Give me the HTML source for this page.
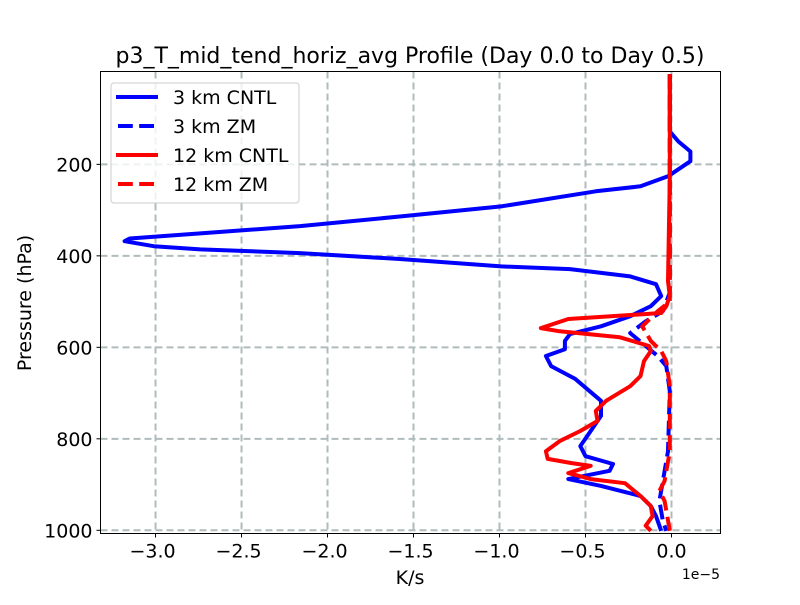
<!DOCTYPE html>
<html><head><meta charset="utf-8"><style>
body{margin:0;background:#fff;}
svg text{font-family:"DejaVu Sans","Liberation Sans",sans-serif;}
</style></head><body>
<svg id="chart" width="800" height="600" viewBox="0 0 800 600" xmlns="http://www.w3.org/2000/svg">
<rect width="800" height="600" fill="#fff"/>
<g id="grid"></g>
<g id="series"></g>
<rect x="100.5" y="71.5" width="620" height="462" fill="none" stroke="#000" stroke-width="1"/>
<g id="ticks"></g>
<text x="410" y="63" font-size="22" text-anchor="middle">p3_T_mid_tend_horiz_avg Profile (Day 0.0 to Day 0.5)</text>
<text x="410" y="584" font-size="19" text-anchor="middle">K/s</text>
<text x="720" y="579" font-size="14" text-anchor="end">1e−5</text>
<text transform="translate(31,303) rotate(-90)" font-size="19" text-anchor="middle">Pressure (hPa)</text>
<g>
<rect x="111" y="83" width="188" height="120" rx="3" fill="#fff" fill-opacity="0.8" stroke="#ccc"/>
<line x1="116" y1="97" x2="158" y2="97" stroke="#0000ff" stroke-width="4"/>
<text x="173" y="104" font-size="19">3 km CNTL</text>
<line x1="118" y1="126" x2="158" y2="126" stroke="#0000ff" stroke-width="4" stroke-dasharray="14.8,6.4"/>
<text x="173" y="133" font-size="19">3 km ZM</text>
<line x1="116" y1="155" x2="158" y2="155" stroke="#ff0000" stroke-width="4"/>
<text x="173" y="162" font-size="19">12 km CNTL</text>
<line x1="118" y1="184" x2="158" y2="184" stroke="#ff0000" stroke-width="4" stroke-dasharray="14.8,6.4"/>
<text x="173" y="191" font-size="19">12 km ZM</text>
</g>
</svg>
<script>
const xTicks=[-3.0,-2.5,-2.0,-1.5,-1.0,-0.5,0.0];
const xTickLabels=["−3.0","−2.5","−2.0","−1.5","−1.0","−0.5","0.0"];
const yTicks=[200,400,600,800,1000];
const yTickLabels=["200","400","600","800","1000"];
const cntl3P=[3,128,150,172,193,226,248,259,292,314,335,351,362,368,379,386,394,407,423,429,445,462,488,510,532,554,571,586,604,619,641,669,717,750,783,816,838,855,870,888,903,925,947,969,1001];
const cntl3V=[-0.01,-0.01,0.04,0.11,0.11,-0.02,-0.18,-0.44,-0.99,-1.58,-2.16,-2.74,-3.15,-3.18,-3.01,-2.74,-2.16,-1.58,-0.99,-0.59,-0.24,-0.09,-0.06,-0.12,-0.24,-0.41,-0.59,-0.62,-0.62,-0.73,-0.70,-0.56,-0.41,-0.41,-0.47,-0.53,-0.50,-0.34,-0.36,-0.60,-0.41,-0.18,-0.12,-0.09,-0.06];
const zm3P=[3,480,521,543,569,597,619,641,696,827,892,936,980,1001];
const zm3V=[-0.01,-0.01,-0.05,-0.15,-0.24,-0.15,-0.08,-0.03,-0.01,-0.02,-0.05,-0.07,-0.05,-0.03];
const cntl12P=[3,230,455,488,510,525,538,558,565,578,597,608,630,663,685,717,739,761,783,805,827,844,853,859,875,888,897,925,947,969,990,1001];
const cntl12V=[-0.01,-0.01,-0.02,-0.01,-0.03,-0.06,-0.6,-0.76,-0.65,-0.30,-0.13,-0.12,-0.16,-0.18,-0.24,-0.38,-0.44,-0.43,-0.53,-0.65,-0.73,-0.72,-0.58,-0.47,-0.60,-0.47,-0.27,-0.18,-0.12,-0.11,-0.15,-0.12];
const zm12P=[3,500,521,554,586,608,630,685,827,892,914,936,1001];
const zm12V=[-0.01,-0.01,-0.08,-0.17,-0.12,-0.06,-0.03,-0.01,-0.01,-0.04,-0.07,-0.04,-0.01];

const NS="http://www.w3.org/2000/svg";
const L=100.5,R=720.5,T=71.5,B=533.5;
const xMin=-3.32,xMax=0.285,pTop=-3,pBot=1007;
const xs=v=>L+(v-xMin)/(xMax-xMin)*(R-L);
const ys=p=>T+(p-pTop)/(pBot-pTop)*(B-T);
function mk(tag,attrs,parent){const e=document.createElementNS(NS,tag);for(const k in attrs)e.setAttribute(k,attrs[k]);parent.appendChild(e);return e;}
const grid=document.getElementById('grid'),ticks=document.getElementById('ticks'),series=document.getElementById('series');
xTicks.forEach((v,i)=>{
  const x=xs(v);
  const g=mk('line',{x1:x,y1:T,x2:x,y2:B,stroke:'#b0bcbc','stroke-width':2,'stroke-dasharray':'7,4'},grid);
  
  
  const t=mk('line',{x1:x,y1:B,x2:x,y2:B+4,stroke:'#000'},ticks);
  
  
  const tx=mk('text',{x:x-(v<0?3:0),y:B+24,'font-size':19,'text-anchor':'middle'},ticks);
  tx.textContent=xTickLabels[i];
  
  
});
yTicks.forEach((p,i)=>{
  const y=ys(p);
  const g=mk('line',{x1:L,y1:y,x2:R,y2:y,stroke:'#b0bcbc','stroke-width':2,'stroke-dasharray':'7,4'},grid);
  
  
  const t=mk('line',{x1:L-4,y1:y,x2:L,y2:y,stroke:'#000'},ticks);
  
  
  const tx=mk('text',{x:L-8,y:y+7,'font-size':19,'text-anchor':'end'},ticks);
  tx.textContent=yTickLabels[i];
  
  
});
function line(P,V,color,dash,name){
  const d=P.map((p,i)=>(i?'L':'M')+xs(V[i]).toFixed(1)+','+ys(p).toFixed(1)).join('');
  const a={d:d,fill:'none',stroke:color,'stroke-width':4,'stroke-linejoin':'round'};
  if(dash)a['stroke-dasharray']='14.8,6.4';
  const e=mk('path',a,series);
  
  
}
line(cntl3P,cntl3V,'#0000ff',false,'line-3km-cntl');
line(zm3P,zm3V,'#0000ff',true,'line-3km-zm');
line(cntl12P,cntl12V,'#ff0000',false,'line-12km-cntl');
line(zm12P,zm12V,'#ff0000',true,'line-12km-zm');
</script>
</body></html>
